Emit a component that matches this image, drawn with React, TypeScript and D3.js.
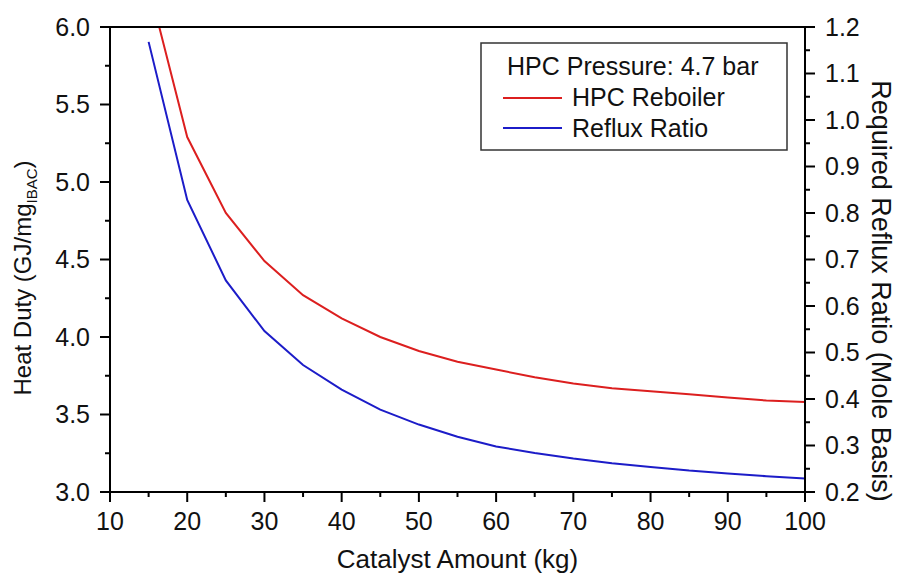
import React from "react";
import * as d3 from "d3";

const catalyst = [15, 20, 25, 30, 35, 40, 45, 50, 55, 60, 65, 70, 75, 80, 85, 90, 95, 100];
const reboilerDuty = [6.27, 5.29, 4.8, 4.49, 4.27, 4.12, 4.0, 3.91, 3.84, 3.79, 3.74, 3.7, 3.67, 3.65, 3.63, 3.61, 3.59, 3.58];
const refluxRatio = [1.168, 0.828, 0.655, 0.546, 0.473, 0.42, 0.377, 0.345, 0.319, 0.298, 0.284, 0.272, 0.262, 0.254, 0.246, 0.24, 0.234, 0.229];
const xTicks = [10, 20, 30, 40, 50, 60, 70, 80, 90, 100];
const leftTicks = [3.0, 3.5, 4.0, 4.5, 5.0, 5.5, 6.0];
const rightTicks = [0.2, 0.3, 0.4, 0.5, 0.6, 0.7, 0.8, 0.9, 1.0, 1.1, 1.2];
const legendTitle = "HPC Pressure: 4.7 bar";
const seriesNames = ["HPC Reboiler", "Reflux Ratio"];

const W = 897, H = 581;
const L = 110, R = 805, T = 27, B = 492;
const FONT = "'Liberation Sans', Arial, sans-serif";
const RED = "#dc1f1f";
const BLUE = "#1c1cc8";

export default function App() {
  const x = d3.scaleLinear().domain([10, 100]).range([L, R]);
  const yL = d3.scaleLinear().domain([3, 6]).range([B, T]);
  const yR = d3.scaleLinear().domain([0.2, 1.2]).range([B, T]);

  const redPath = d3.line<number>().x((_, i) => x(catalyst[i])).y((d) => yL(d))(reboilerDuty) || "";
  const bluePath = d3.line<number>().x((_, i) => x(catalyst[i])).y((d) => yR(d))(refluxRatio) || "";

  const xMinor = d3.range(15, 100, 10);
  const lMinor = d3.range(3.25, 6, 0.5);
  const rMinor = d3.range(0.25, 1.2, 0.1);

  return (
    <svg width={W} height={H} style={{ position: "absolute", left: 0, top: 0, background: "#fff" }} fontFamily={FONT}>
      <defs>
        <clipPath id="plotclip">
          <rect x={L} y={T} width={R - L} height={B - T} />
        </clipPath>
      </defs>
      <rect x={0} y={0} width={W} height={H} fill="#fff" />

      {/* series */}
      <g clipPath="url(#plotclip)">
        <path d={redPath} fill="none" stroke={RED} strokeWidth={2} />
        <path d={bluePath} fill="none" stroke={BLUE} strokeWidth={2} />
      </g>

      {/* frame */}
      <line x1={L} x2={R} y1={T} y2={T} stroke="#000" strokeWidth={2} />
      <line x1={L} x2={R} y1={B} y2={B} stroke="#000" strokeWidth={2} />
      <line x1={L} x2={L} y1={T} y2={B} stroke="#000" strokeWidth={2} />
      <line x1={R} x2={R} y1={T} y2={B} stroke="#000" strokeWidth={2} />

      {/* x ticks */}
      {xTicks.map((t) => (
        <g key={"xt" + t}>
          <line x1={x(t)} x2={x(t)} y1={B} y2={B + 10} stroke="#000" strokeWidth={2} />
          <text x={x(t)} y={530} fontSize={25} textAnchor="middle" fill="#111">{t}</text>
        </g>
      ))}
      {xMinor.map((t) => (
        <line key={"xm" + t} x1={x(t)} x2={x(t)} y1={B} y2={B + 5} stroke="#000" strokeWidth={2} />
      ))}

      {/* left ticks */}
      {leftTicks.map((t) => (
        <g key={"lt" + t}>
          <line x1={L - 10} x2={L} y1={yL(t)} y2={yL(t)} stroke="#000" strokeWidth={2} />
          <text x={90} y={yL(t) + 8.5} fontSize={25} textAnchor="end" fill="#111">{t.toFixed(1)}</text>
        </g>
      ))}
      {lMinor.map((t) => (
        <line key={"lm" + t} x1={L - 5} x2={L} y1={yL(t)} y2={yL(t)} stroke="#000" strokeWidth={2} />
      ))}

      {/* right ticks */}
      {rightTicks.map((t) => (
        <g key={"rt" + t}>
          <line x1={R} x2={R + 10} y1={yR(t)} y2={yR(t)} stroke="#000" strokeWidth={2} />
          <text x={825} y={yR(t) + 8.5} fontSize={25} textAnchor="start" fill="#111">{t.toFixed(1)}</text>
        </g>
      ))}
      {rMinor.map((t) => (
        <line key={"rm" + t} x1={R} x2={R + 5} y1={yR(t)} y2={yR(t)} stroke="#000" strokeWidth={2} />
      ))}

      {/* axis titles */}
      <text x={(L + R) / 2} y={568} fontSize={26} textAnchor="middle" fill="#111">Catalyst Amount (kg)</text>
      <text transform={`translate(31,278) rotate(-90)`} fontSize={24} textAnchor="middle" fill="#111">
        Heat Duty (GJ/mg<tspan fontSize={15} dy={6}>IBAC</tspan><tspan dy={-6}>)</tspan>
      </text>
      <text transform={`translate(872,291) rotate(90)`} fontSize={27} textAnchor="middle" fill="#111">Required Reflux Ratio (Mole Basis)</text>

      {/* legend */}
      <rect x={481} y={43} width={306} height={107} fill="#fff" stroke="#333" strokeWidth={1.5} />
      <text x={507} y={75} fontSize={25} fill="#111">{legendTitle}</text>
      <line x1={503} x2={562} y1={98} y2={98} stroke={RED} strokeWidth={2} />
      <text x={572} y={106} fontSize={25} fill="#111">{seriesNames[0]}</text>
      <line x1={503} x2={562} y1={128} y2={128} stroke={BLUE} strokeWidth={2} />
      <text x={572} y={137} fontSize={25} fill="#111">{seriesNames[1]}</text>
    </svg>
  );
}
